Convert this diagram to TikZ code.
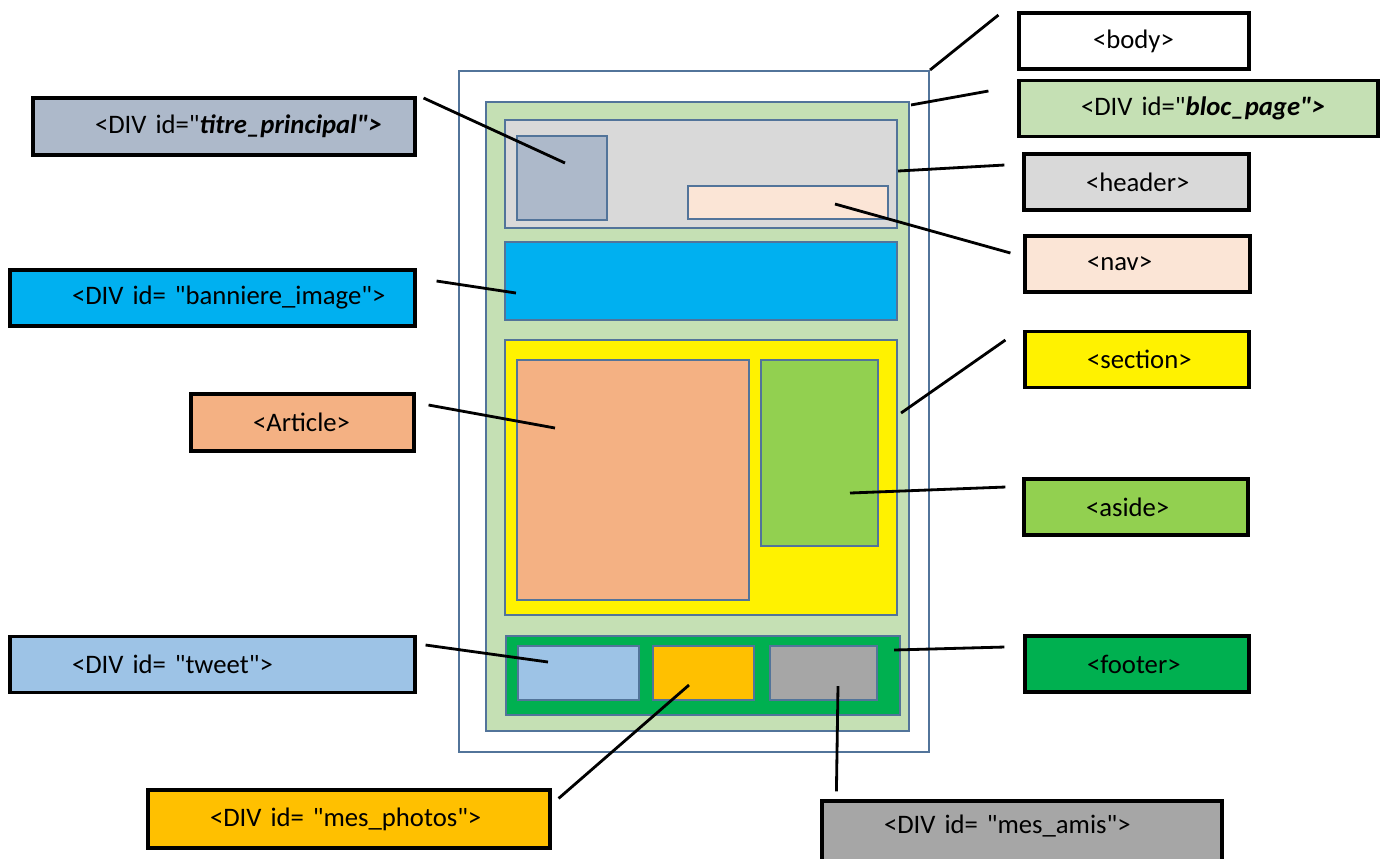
\documentclass[tikz,border=0pt]{standalone}
\usepackage{fontspec}
\setmainfont{Carlito}
\usetikzlibrary{calc}

\definecolor{boxline}{HTML}{52749A}
\definecolor{blocgreen}{HTML}{C5E0B4}
\definecolor{headgray}{HTML}{D9D9D9}
\definecolor{titreblue}{HTML}{ADB9CA}
\definecolor{navpink}{HTML}{FBE5D6}
\definecolor{banblue}{HTML}{00B0F0}
\definecolor{artorange}{HTML}{F4B183}
\definecolor{asidegreen}{HTML}{92D050}
\definecolor{footgreen}{HTML}{00B050}
\definecolor{tweetblue}{HTML}{9DC3E6}
\definecolor{photoyellow}{HTML}{FFC000}
\definecolor{amisgray}{HTML}{A6A6A6}
\newcommand{\dq}{\textquotedbl}

\begin{document}
\begin{tikzpicture}[x=0.1mm, y=-0.1mm]
      \tikzstyle{zone}=[draw=boxline, line width=0.6pt, inner sep=0pt]
      \tikzstyle{lbl}=[draw=black, line width=0.9pt, inner xsep=0pt, inner ysep=0pt,
                       minimum height=5.6mm, align=left, font=\fontsize{7.6}{9}\selectfont,
                       execute at begin node=\hspace*{6.2mm}]
      \tikzstyle{lead}=[line width=0.8pt, black]
      \clip (0,0) rectangle (1381,858);

      % the page
      \node[zone, fill=white, minimum width=47mm, minimum height=68.1mm] (bodyBox) at (694,411.5) {};
      \node[zone, fill=blocgreen, minimum width=42.3mm, minimum height=62.9mm] (blocBox) at (697.5,416.5) {};
      \node[zone, fill=headgray, minimum width=39.2mm, minimum height=10.8mm] (headBox) at (701,174) {};
      \node[zone, fill=titreblue, minimum width=9mm, minimum height=8.4mm] (titreBox) at (562,178) {};
      \node[zone, fill=navpink, minimum width=20mm, minimum height=3.3mm] (navBox) at (788,202.5) {};
      \node[zone, fill=banblue, minimum width=39.2mm, minimum height=7.8mm] (banBox) at (701,281) {};
      \node[zone, fill=yellow, minimum width=39.2mm, minimum height=27.5mm] (secBox) at (701,477.5) {};
      \node[zone, fill=artorange, minimum width=23.2mm, minimum height=24mm] (artBox) at (633,480) {};
      \node[zone, fill=asidegreen, minimum width=11.7mm, minimum height=18.6mm] (asideBox) at (819.5,453) {};
      \node[zone, fill=footgreen, minimum width=39.4mm, minimum height=7.9mm] (footBox) at (703,675.5) {};
      \node[zone, fill=tweetblue, minimum width=12.1mm, minimum height=5.4mm] (tweetBox) at (578.5,673) {};
      \node[zone, fill=photoyellow, minimum width=10.1mm, minimum height=5.4mm] (photoBox) at (703.5,673) {};
      \node[zone, fill=amisgray, minimum width=10.7mm, minimum height=5.4mm] (amisBox) at (823.5,673) {};

      % labels
      \node[lbl, fill=white, text width=23mm] (bodyL) at (1134,41) {\hspace*{1.2mm}<body>};
      \node[lbl, fill=blocgreen, text width=35.9mm] (blocL) at (1198.5,108.5) {<DIV id=\dq\textbf{\textit{bloc\_page\dq>}}};
      \node[lbl, fill=headgray, text width=22.5mm] (headL) at (1136.5,182) {<header>};
      \node[lbl, fill=navpink, text width=22.5mm] (navL) at (1137.5,264) {<nav>};
      \node[lbl, fill=yellow, text width=22.4mm] (secL) at (1137,359.5) {<section>};
      \node[lbl, fill=asidegreen, text width=22.4mm] (asideL) at (1136,507) {<aside>};
      \node[lbl, fill=footgreen, text width=22.4mm] (footL) at (1137,664) {<footer>};
      \node[lbl, fill=amisgray, text width=40mm, minimum height=6.4mm, text depth=1.8mm] (amisL) at (1022,833) {<DIV id= \dq mes\_amis\dq>};
      \node[lbl, fill=photoyellow, text width=40.2mm, minimum height=5.8mm] (photoL) at (349,819) {<DIV id= \dq mes\_photos\dq>};
      \node[lbl, fill=tweetblue, text width=40.5mm] (tweetL) at (212.5,664.5) {<DIV id= \dq tweet\dq>};
      \node[lbl, fill=artorange, text width=22.3mm, minimum height=5.7mm] (artL) at (302.5,422.5) {<Article>};
      \node[lbl, fill=banblue, text width=40.5mm] (banL) at (212.5,298) {<DIV id= \dq banniere\_image\dq>};
      \node[lbl, fill=titreblue, text width=38.2mm, minimum height=5.7mm] (titreL) at (224,126.5) {<DIV id=\dq\textbf{\textit{titre\_principal\dq>}}};

      % leader ends
      \coordinate (body-in) at (bodyBox.north east);
      \coordinate (body-out) at ($(bodyL.west)+(-19,-26)$);
      \coordinate (bloc-in) at ($(blocBox.north east)+(1,4)$);
      \coordinate (bloc-out) at ($(blocL.west)+(-29,-17.5)$);
      \coordinate (head-in) at ($(headBox.east)+(0,-3)$);
      \coordinate (head-out) at ($(headL.west)+(-18,-17)$);
      \coordinate (nav-in) at ($(navBox.center)+(47,1.5)$);
      \coordinate (nav-out) at ($(navL.west)+(-13,-11)$);
      \coordinate (titre-in) at ($(titreBox.center)+(3,-15)$);
      \coordinate (titre-out) at ($(titreL.east)+(7,-28.5)$);
      \coordinate (ban-in) at ($(banBox.west)+(12,12)$);
      \coordinate (ban-out) at ($(banL.east)+(20,-17)$);
      \coordinate (sec-in) at ($(secBox.east)+(3,-64.5)$);
      \coordinate (sec-out) at ($(secL.west)+(-18,-19.5)$);
      \coordinate (art-in) at ($(artBox.center)+(-78,-52)$);
      \coordinate (art-out) at ($(artL.east)+(13,-17.5)$);
      \coordinate (aside-in) at ($(asideBox.center)+(30.5,40)$);
      \coordinate (aside-out) at ($(asideL.west)+(-17,-20)$);
      \coordinate (foot-in) at ($(footBox.east)+(-7,-25.5)$);
      \coordinate (foot-out) at ($(footL.west)+(-19,-17)$);
      \coordinate (tweet-in) at ($(tweetBox.center)+(-30.5,-11)$);
      \coordinate (tweet-out) at ($(tweetL.east)+(9,-19.5)$);
      \coordinate (photo-in) at ($(photoBox.center)+(-14.5,12)$);
      \coordinate (photo-out) at ($(photoL.north east)+(7,10)$);
      \coordinate (amis-in) at ($(amisBox.center)+(14.5,13)$);
      \coordinate (amis-out) at ($(amisL.north west)+(16,-8)$);

      \foreach \part in {body, bloc, head, nav, titre, ban, sec, art, aside,
                         foot, tweet, photo, amis} {%
        \draw[lead] (\part-in) -- (\part-out);
      }
    \end{tikzpicture}
\end{document}
